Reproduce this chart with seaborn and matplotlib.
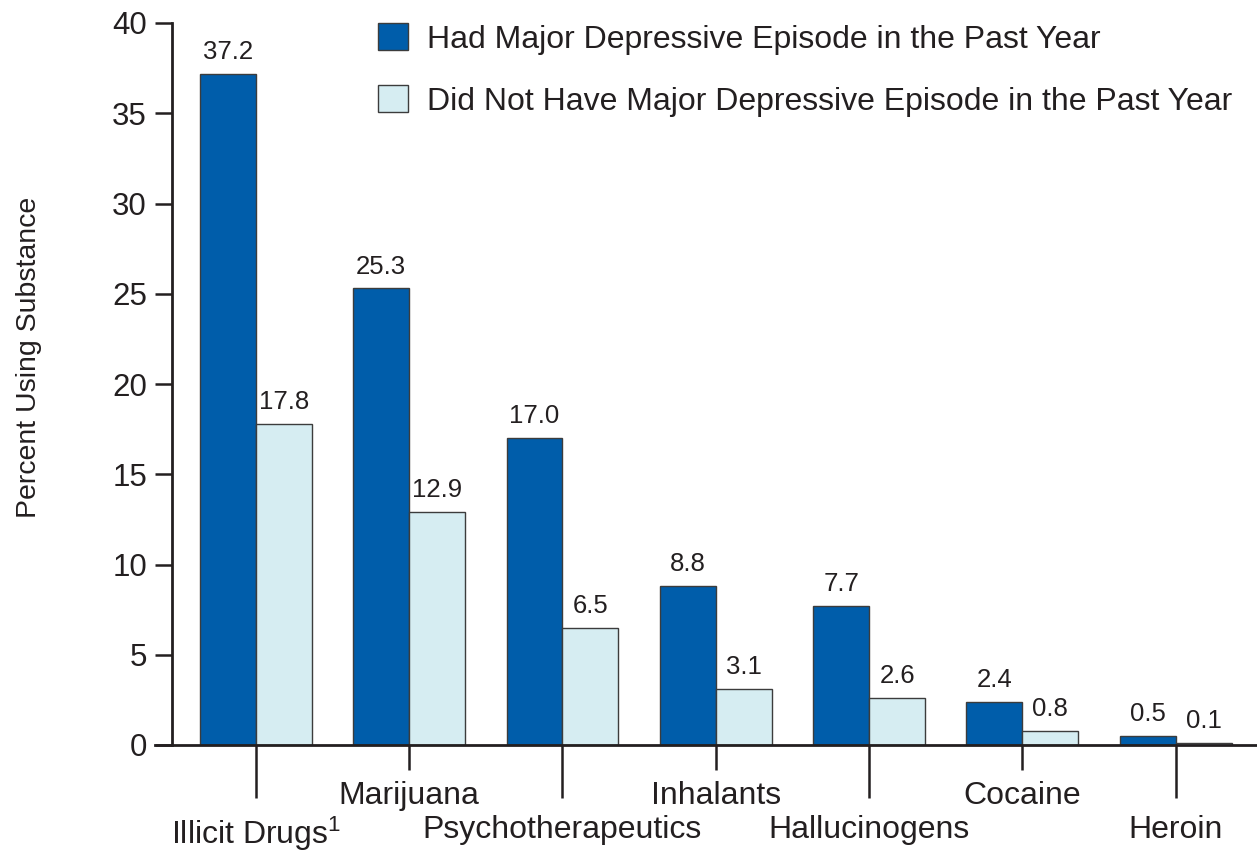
import numpy as np
import pandas as pd
import matplotlib
matplotlib.use("Agg")
import matplotlib.pyplot as plt
import seaborn as sns

categories = ["Illicit Drugs$^{1}$", "Marijuana", "Psychotherapeutics", "Inhalants",
              "Hallucinogens", "Cocaine", "Heroin"]
had_mde = [37.2, 25.3, 17.0, 8.8, 7.7, 2.4, 0.5]
no_mde = [17.8, 12.9, 6.5, 3.1, 2.6, 0.8, 0.1]
series = ["Had Major Depressive Episode in the Past Year",
          "Did Not Have Major Depressive Episode in the Past Year"]
yticks = [0, 5, 10, 15, 20, 25, 30, 35, 40]

sns.set_style("white")
plt.rcParams["font.family"] = ["Liberation Sans", "DejaVu Sans"]
plt.rcParams["mathtext.fontset"] = "custom"
plt.rcParams["mathtext.rm"] = "Liberation Sans"
plt.rcParams["mathtext.default"] = "regular"
TXT = "#231F20"

df = pd.DataFrame({
    "category": categories * 2,
    "value": had_mde + no_mde,
    "series": [series[0]] * len(categories) + [series[1]] * len(categories),
})

W, H = 1257, 852
fig = plt.figure(figsize=(W / 100, H / 100), dpi=100)
ax = fig.add_axes([172 / W, 1 - 745 / H, (W - 172) / W, (745 - 23) / H])

palette = {series[0]: "#005DAA", series[1]: "#D6EDF2"}
sns.barplot(data=df, x="category", y="value", hue="series", order=categories,
            hue_order=series, palette=palette, saturation=1, width=0.73, gap=0,
            edgecolor="#3C3C3C", linewidth=1.0, ax=ax, legend=True)

for cont in ax.containers:
    ax.bar_label(cont, fmt="%.1f", padding=7, fontsize=18.5, color=TXT)

ax.set_ylim(0, 40)
ax.set_xlim(-0.547, 6.53)
ax.set_yticks(yticks)
ax.tick_params(axis="y", labelsize=22.5, colors=TXT, length=12, width=1.8,
               direction="out", left=True, pad=6)

major_idx = [0, 2, 4, 6]
minor_idx = [1, 3, 5]
ax.set_xticks(major_idx, [categories[i] for i in major_idx])
ax.set_xticks(minor_idx, [categories[i] for i in minor_idx], minor=True)
ax.tick_params(axis="x", which="major", labelsize=23, colors=TXT, length=38,
               width=1.8, direction="out", bottom=True, pad=12.5)
ax.tick_params(axis="x", which="minor", labelsize=23, colors=TXT, length=18,
               width=1.8, direction="out", bottom=True, pad=8)

ax.set_xlabel("")
ax.set_ylabel("")
for s in ["top", "right"]:
    ax.spines[s].set_visible(False)
for s in ["left", "bottom"]:
    ax.spines[s].set_linewidth(2.0)
    ax.spines[s].set_color(TXT)
ax.spines["bottom"].set_bounds(-0.547 - 17 / 153.5, 6.53)
ax.spines["bottom"].set_clip_on(False)

fig.text(29 / W, 1 - 357 / H, "Percent Using Substance", rotation=90,
         ha="center", va="center", fontsize=20.5, color=TXT)

leg = ax.legend(loc="upper left", bbox_to_anchor=(378 / W, 1 - 23 / H),
                bbox_transform=fig.transFigure, frameon=False, fontsize=23,
                handlelength=0.94, handleheight=0.94, handletextpad=0.6,
                labelspacing=0.95, borderpad=0, borderaxespad=0)
for t in leg.get_texts():
    t.set_color(TXT)

fig.savefig("out.png", dpi=100)
